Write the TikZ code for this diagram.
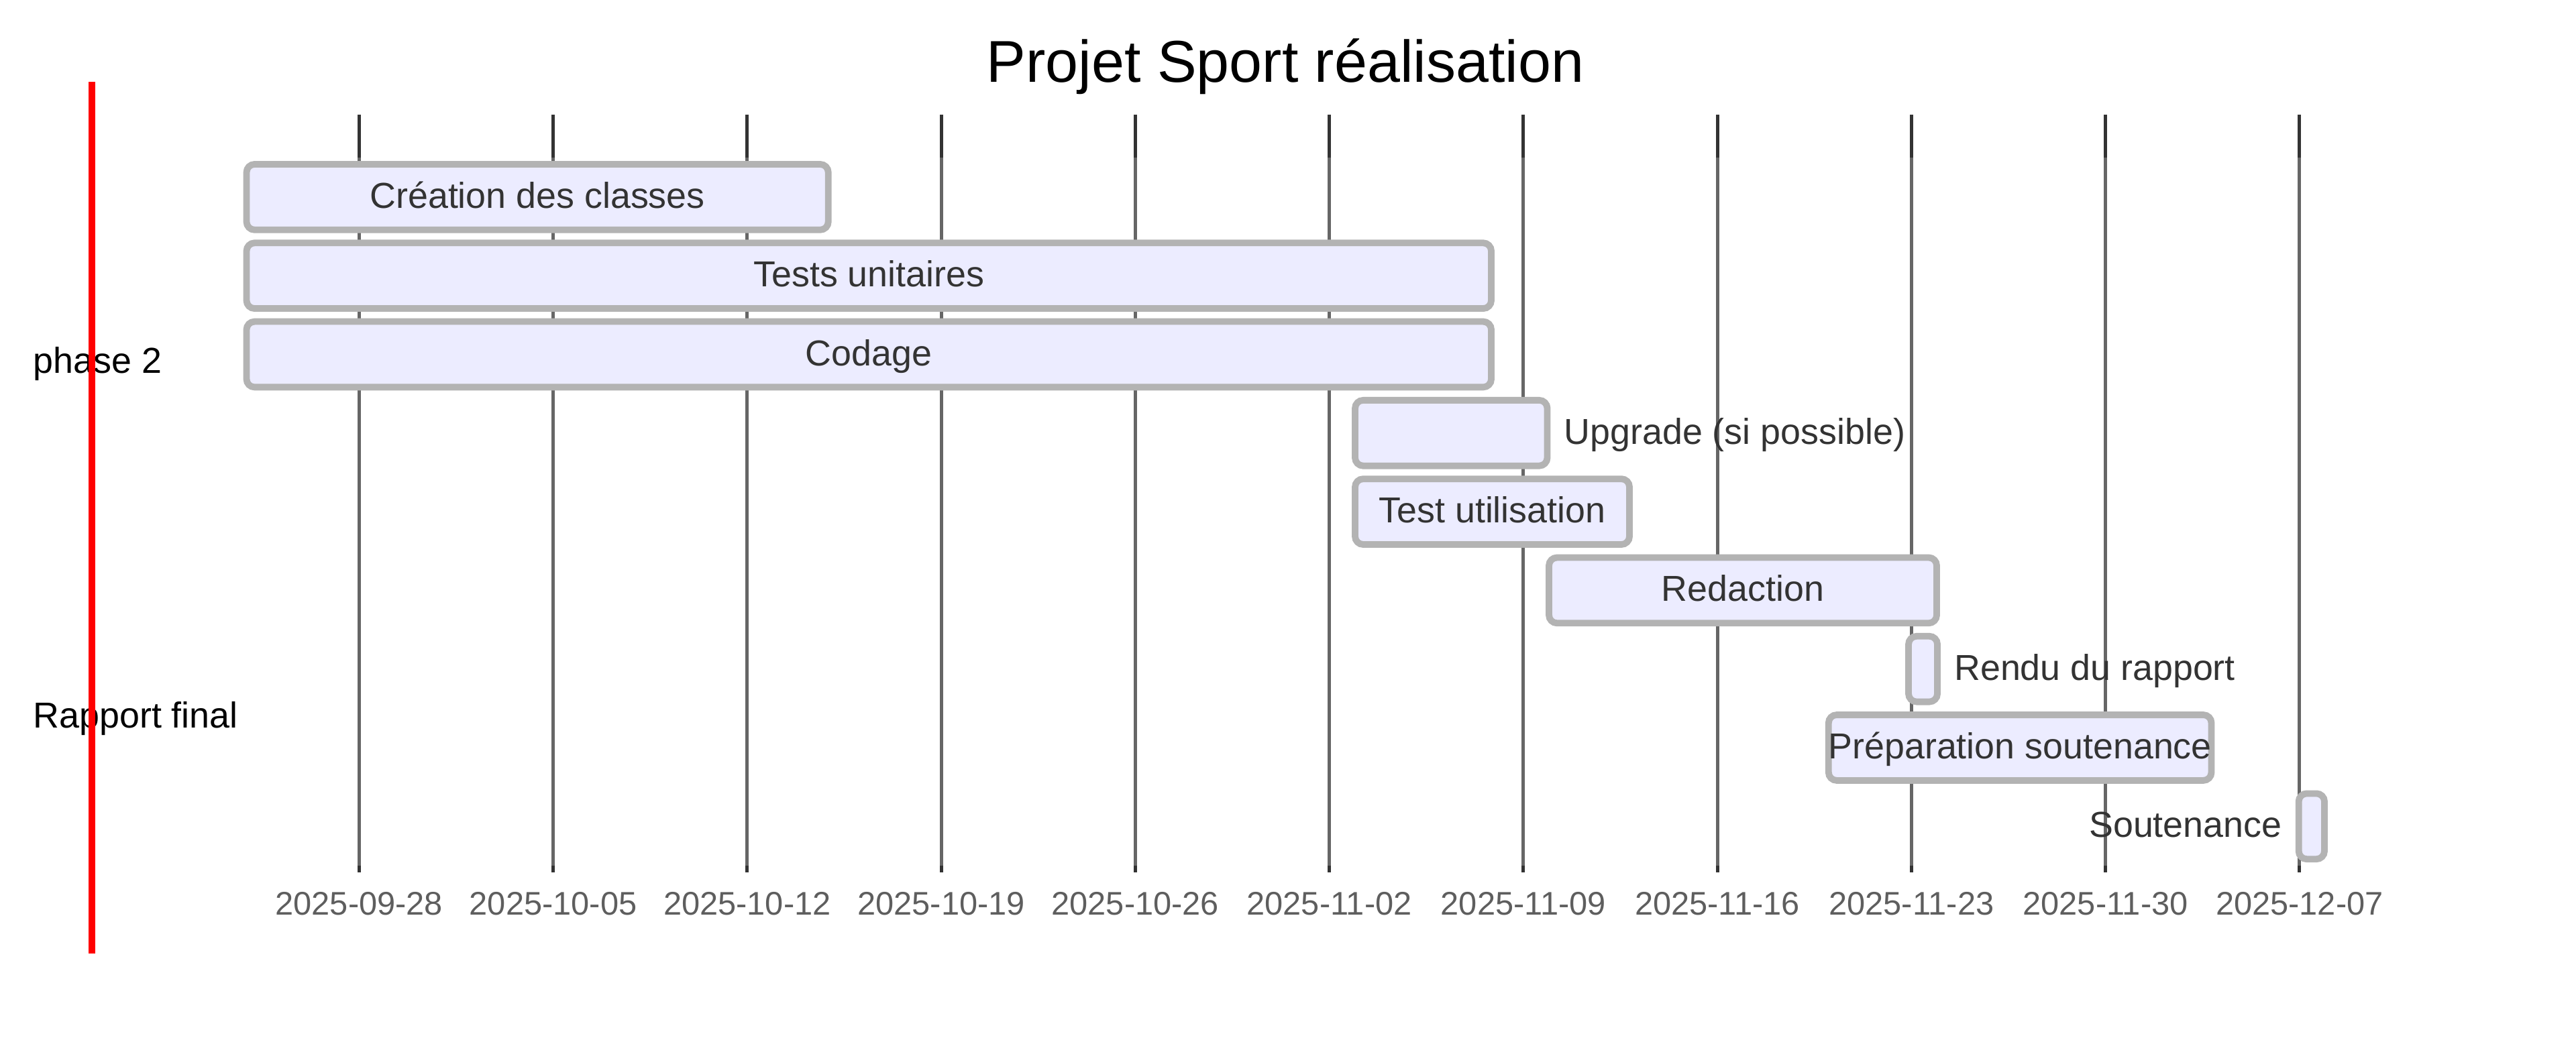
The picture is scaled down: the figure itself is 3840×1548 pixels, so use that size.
\documentclass[tikz,border=0pt]{standalone}
\usepackage{fontspec}
\setmainfont{Liberation Sans}
\definecolor{barfill}{HTML}{ECECFF}
\definecolor{barline}{HTML}{B3B3B3}
\definecolor{taskgray}{HTML}{333333}
\definecolor{gridc}{HTML}{333333}
\definecolor{ticktext}{HTML}{5E5E5E}
\begin{document}
\begin{tikzpicture}[x=0.25pt,y=-0.25pt,
  bar/.style={draw=barline, fill=barfill, line width=2.45pt, rounded corners=3pt},
  tasktext/.style={text=taskgray, font=\fontsize{13.45pt}{16pt}\selectfont, inner sep=0pt},
  secttext/.style={text=black, font=\fontsize{13.45pt}{16pt}\selectfont, inner sep=0pt, anchor=base west},
  ticklabel/.style={text=ticktext, font=\fontsize{12.2pt}{14pt}\selectfont, inner sep=0pt, anchor=base},
  gridline/.style={draw=gridc, line width=1.22pt},
  todayline/.style={draw=red, line width=2.45pt}]
\useasboundingbox (0,0) rectangle (3840,1548);
% title
\node[font=\fontsize{22pt}{26pt}\selectfont, inner sep=0pt, anchor=base] (title) at (1916,122.5) {Projet Sport réalisation};
% grid lines and tick labels
\foreach \k/\lab in {0/2025-09-28,1/2025-10-05,2/2025-10-12,3/2025-10-19,4/2025-10-26,5/2025-11-02,6/2025-11-09,7/2025-11-16,8/2025-11-23,9/2025-11-30,10/2025-12-07}{
  \pgfmathsetmacro{\gx}{535.3+\k*289.25}
  \coordinate (gt\k) at (\gx,171);
  \coordinate (gb\k) at (\gx,1300.5);
  \draw[gridline] (gt\k) -- (gb\k);
  \node[ticklabel] (tick\k) at (\gx,1364) {\lab};
}
% section band (light overlay)
\fill[white, opacity=0.25] (0,235.2) rectangle (3649,1290.9);
% bars
\draw[bar] (367.5,245.0) rectangle (1234.7,342.8);
\draw[bar] (367.5,362.3) rectangle (2223,460.1);
\draw[bar] (367.5,479.6) rectangle (2223,577.4);
\draw[bar] (2020,596.9) rectangle (2306.5,694.7);
\draw[bar] (2020,714.2) rectangle (2429,812.0);
\draw[bar] (2309,831.5) rectangle (2887,929.3);
\draw[bar] (2845,948.8) rectangle (2888,1046.6);
\draw[bar] (2725.8,1066.1) rectangle (3296.5,1163.9);
\draw[bar] (3426.6,1183.4) rectangle (3465,1281.2);
% task texts
\node[tasktext, anchor=base] (t1) at (801.1,310.5) {Création des classes};
\node[tasktext, anchor=base] (t2) at (1295.2,427.8) {Tests unitaires};
\node[tasktext, anchor=base] (t3) at (1295.2,545.1) {Codage};
\node[tasktext, anchor=base west] (t4) at (2330.9,662.4) {Upgrade (si possible)};
\node[tasktext, anchor=base] (t5) at (2224.5,779.7) {Test utilisation};
\node[tasktext, anchor=base] (t6) at (2598,897.0) {Redaction};
\node[tasktext, anchor=base west] (t7) at (2912.4,1014.3) {Rendu du rapport};
\node[tasktext, anchor=base] (t8) at (3011.2,1131.6) {Préparation soutenance};
\node[tasktext, anchor=base east] (t9) at (3402.2,1248.9) {Soutenance};
% section titles
\node[secttext] (s1) at (48.9,557) {phase 2};
\node[secttext] (s2) at (48.9,1085) {Rapport final};
% today line
\coordinate (today1) at (136.7,122.2);
\coordinate (today2) at (136.7,1422.4);
\draw[todayline] (today1) -- (today2);
\end{tikzpicture}
\end{document}
